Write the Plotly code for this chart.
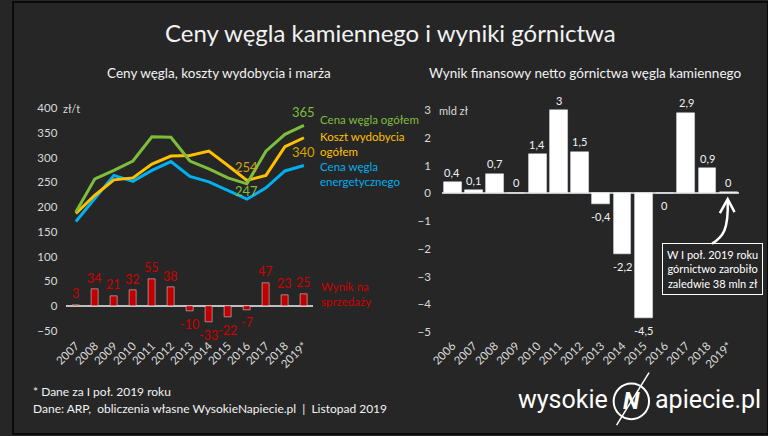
import plotly.graph_objects as go

# ---------------- data ----------------
years_left = ["2007", "2008", "2009", "2010", "2011", "2012", "2013",
              "2014", "2015", "2016", "2017", "2018", "2019*"]
price_total = [190, 257, 274, 293, 342, 341, 293, 277, 259, 247, 313, 347, 365]
mining_cost = [187, 224, 255, 259, 287, 303, 304, 313, 284, 254, 264, 322, 340]
price_energy = [171, 217, 264, 252, 274, 292, 262, 251, 234, 216, 239, 273, 284]
sales_result = [3, 34, 21, 32, 55, 38, -10, -33, -22, -7, 47, 23, 25]

years_right = ["2006", "2007", "2008", "2009", "2010", "2011", "2012", "2013",
               "2014", "2015", "2016", "2017", "2018", "2019*"]
net_result = [0.4, 0.1, 0.7, 0.01, 1.4, 3.0, 1.5, -0.4, -2.2, -4.5, -0.01, 2.9, 0.9, 0.038]
net_labels = ["0,4", "0,1", "0,7", "0", "1,4", "3", "1,5", "-0,4", "-2,2", "-4,5",
              "0", "2,9", "0,9", "0"]

left_ticks = [-50, 0, 50, 100, 150, 200, 250, 300, 350, 400]
right_ticks = [-5, -4, -3, -2, -1, 0, 1, 2, 3]

# ---------------- style ----------------
W, H = 768, 436
BG = "#262626"
GREEN = "#7DBE3C"
ORANGE = "#FFC000"
BLUE = "#00B0F0"
RED = "#C00000"
RED_TXT = "#D00000"
TXT = "#D9D9D9"
FONT = "Lato"


def px(x):
    return x / W


def py(y):
    return 1 - y / H


def pth(cmds):
    out = []
    for c in cmds:
        if isinstance(c, str):
            out.append(c)
        else:
            out.append(f"{px(c[0]):.5f},{py(c[1]):.5f}")
    return " ".join(out)


fig = go.Figure()

# left chart
fig.add_trace(go.Bar(x=years_left, y=sales_result, marker_color=RED, width=0.4,
                     xaxis="x", yaxis="y", showlegend=False, hoverinfo="skip"))
for vals, col in [(price_energy, BLUE), (mining_cost, ORANGE), (price_total, GREEN)]:
    fig.add_trace(go.Scatter(x=years_left, y=vals, mode="lines",
                             line=dict(color=col, width=3),
                             xaxis="x", yaxis="y", showlegend=False, hoverinfo="skip"))

# right chart
fig.add_trace(go.Bar(x=years_right, y=net_result, marker_color="#FFFFFF", width=0.84,
                     xaxis="x2", yaxis="y2", showlegend=False, hoverinfo="skip"))

ann = []
# bar labels left (x given as category index)
for i, v in enumerate(sales_result):
    ann.append(dict(x=i, y=v, xref="x", yref="y", text=str(v), showarrow=False,
                    yshift=11 if v >= 0 else -13, font=dict(color=RED_TXT, size=12.5, family=FONT)))
# bar labels right
for i, (v, t) in enumerate(zip(net_result, net_labels)):
    ann.append(dict(x=i, y=v, xref="x2", yref="y2", text=t, showarrow=False,
                    yshift=10 if v >= 0 else -12, font=dict(color="#F2F2F2", size=11, family=FONT)))

last = len(years_left) - 1
# line end labels
ann += [
    dict(x=last, y=price_total[last], xref="x", yref="y", text=str(price_total[last]),
         showarrow=False, yshift=13, font=dict(color=GREEN, size=13, family=FONT)),
    dict(x=last, y=mining_cost[last], xref="x", yref="y", text=str(mining_cost[last]),
         showarrow=False, yshift=-14, font=dict(color="#D9A400", size=13, family=FONT)),
    dict(x=9, y=mining_cost[9], xref="x", yref="y", text=str(mining_cost[9]),
         showarrow=False, yshift=13, font=dict(color="#C9A21C", size=13, family=FONT)),
    dict(x=9, y=price_total[9], xref="x", yref="y", text=str(price_total[9]),
         showarrow=False, yshift=-7, font=dict(color=GREEN, size=13, family=FONT)),
]

# series names
ann += [
    dict(x=px(310), y=py(119), xref="paper", yref="paper", xanchor="left", yanchor="middle",
         text="Cena węgla ogółem", showarrow=False, align="left",
         font=dict(color=GREEN, size=11.5, family=FONT)),
    dict(x=px(310), y=py(143.5), xref="paper", yref="paper", xanchor="left", yanchor="middle",
         text="Koszt wydobycia<br>ogółem", showarrow=False, align="left",
         font=dict(color=ORANGE, size=11.5, family=FONT)),
    dict(x=px(310), y=py(173.5), xref="paper", yref="paper", xanchor="left", yanchor="middle",
         text="Cena węgla<br>energetycznego", showarrow=False, align="left",
         font=dict(color=BLUE, size=11.5, family=FONT)),
    dict(x=px(311), y=py(295), xref="paper", yref="paper", xanchor="left", yanchor="middle",
         text="Wynik na<br>sprzedaży", showarrow=False, align="left",
         font=dict(color=RED_TXT, size=11.5, family=FONT)),
]

# units
ann += [
    dict(x=px(49), y=py(107), xref="paper", yref="paper", xanchor="left", yanchor="middle",
         text="zł/t", showarrow=False, font=dict(color=TXT, size=11, family=FONT)),
    dict(x=px(431), y=py(109), xref="paper", yref="paper", xanchor="left", yanchor="middle",
         text="mld zł", showarrow=False, font=dict(color=TXT, size=11, family=FONT)),
]

# titles
ann += [
    dict(x=0.5, y=py(31), xref="paper", yref="paper", xanchor="center", yanchor="middle",
         text="Ceny węgla kamiennego i wyniki górnictwa", showarrow=False,
         font=dict(color="#F2F2F2", size=24, family=FONT)),
    dict(x=px(210), y=py(72), xref="paper", yref="paper", xanchor="center", yanchor="middle",
         text="Ceny węgla, koszty wydobycia i marża", showarrow=False,
         font=dict(color="#F2F2F2", size=13.5, family=FONT)),
    dict(x=px(582), y=py(72), xref="paper", yref="paper", xanchor="center", yanchor="middle",
         text="Wynik finansowy netto górnictwa węgla kamiennego", showarrow=False,
         font=dict(color="#F2F2F2", size=13.5, family=FONT)),
]

# footer
ann += [
    dict(x=px(18), y=py(393), xref="paper", yref="paper", xanchor="left", yanchor="middle",
         text="* Dane za I poł. 2019 roku", showarrow=False,
         font=dict(color="#F2F2F2", size=12, family=FONT)),
    dict(x=px(18), y=py(410), xref="paper", yref="paper", xanchor="left", yanchor="middle",
         text="Dane: ARP,  obliczenia własne WysokieNapiecie.pl  |  Listopad 2019", showarrow=False,
         font=dict(color="#F2F2F2", size=12, family=FONT)),
]

# callout box
ann += [
    dict(x=px(711.5), y=py(269.5), xref="paper", yref="paper", xanchor="center", yanchor="middle",
         text="W I poł. 2019 roku<br>górnictwo zarobiło<br>zaledwie 38 mln zł", showarrow=False,
         bordercolor="#FFFFFF", borderwidth=1, borderpad=4, align="center",
         font=dict(color="#FFFFFF", size=11, family=FONT)),
]

# logo
ann += [
    dict(x=px(607), y=py(401), xref="paper", yref="paper", xanchor="right", yanchor="middle",
         text="wysokie", showarrow=False, font=dict(color="#FFFFFF", size=25, family="Roboto")),
    dict(x=px(629), y=py(403), xref="paper", yref="paper", xanchor="center", yanchor="middle",
         text="<b><i>N</i></b>", showarrow=False, font=dict(color="#FFFFFF", size=24, family="Roboto")),
    dict(x=px(651), y=py(401), xref="paper", yref="paper", xanchor="left", yanchor="middle",
         text="apiecie.pl", showarrow=False, font=dict(color="#FFFFFF", size=25, family="Roboto")),
]

shapes = [
    # hand-drawn style curved arrow towards the 2019* bar
    dict(type="path", xref="paper", yref="paper",
         path=pth(["M", (711, 244), "C", (722, 237), (728, 230), (727, 201)]),
         line=dict(color="#FFFFFF", width=2.5)),
    dict(type="path", xref="paper", yref="paper",
         path=pth(["M", (719, 213), "L", (727, 199), "L", (734, 212)]),
         line=dict(color="#FFFFFF", width=2.5)),
    # logo circle and slash
    dict(type="circle", xref="paper", yref="paper",
         x0=px(611), x1=px(647), y0=py(385), y1=py(421),
         line=dict(color="#FFFFFF", width=2)),
    dict(type="line", xref="paper", yref="paper",
         x0=px(614), y0=py(427), x1=px(647), y1=py(374),
         line=dict(color="#FFFFFF", width=1.5)),
    dict(type="rect", xref="paper", yref="paper", x0=0, x1=1, y0=0, y1=1,
         line=dict(color="#0A0A0A", width=2)),
]

tickfont = dict(color=TXT, size=11.5, family=FONT)

fig.update_layout(
    width=W, height=H,
    margin=dict(l=0, r=0, t=0, b=0),
    paper_bgcolor=BG, plot_bgcolor=BG,
    showlegend=False,
    bargap=0,
    barmode="overlay",
    annotations=ann,
    shapes=shapes,
    xaxis=dict(domain=[px(54.3), px(305.6)], range=[-0.5, 12.5], type="category",
               showgrid=False, zeroline=False, showline=False, ticks="",
               tickangle=-45, tickfont=tickfont, fixedrange=True),
    yaxis=dict(domain=[py(337), py(102)], range=[-60, 410], tickvals=left_ticks,
               showgrid=False, zeroline=True, zerolinecolor="#BFBFBF", zerolinewidth=1.5,
               showline=False, ticks="", tickfont=tickfont, ticklabelstandoff=8,
               fixedrange=True),
    xaxis2=dict(domain=[px(436.2), px(738.7)], range=[-0.5, 13.5], type="category",
                anchor="y2", showgrid=False, zeroline=False, showline=False, ticks="",
                tickangle=-45, tickfont=tickfont, fixedrange=True),
    yaxis2=dict(domain=[py(337), py(102)], range=[-5.14, 3.25], tickvals=right_ticks,
                anchor="x2", showgrid=False, zeroline=True, zerolinecolor="#BFBFBF",
                zerolinewidth=1.5, showline=False, ticks="", tickfont=tickfont,
                ticklabelstandoff=10, fixedrange=True),
)

fig.write_html("out.html")
